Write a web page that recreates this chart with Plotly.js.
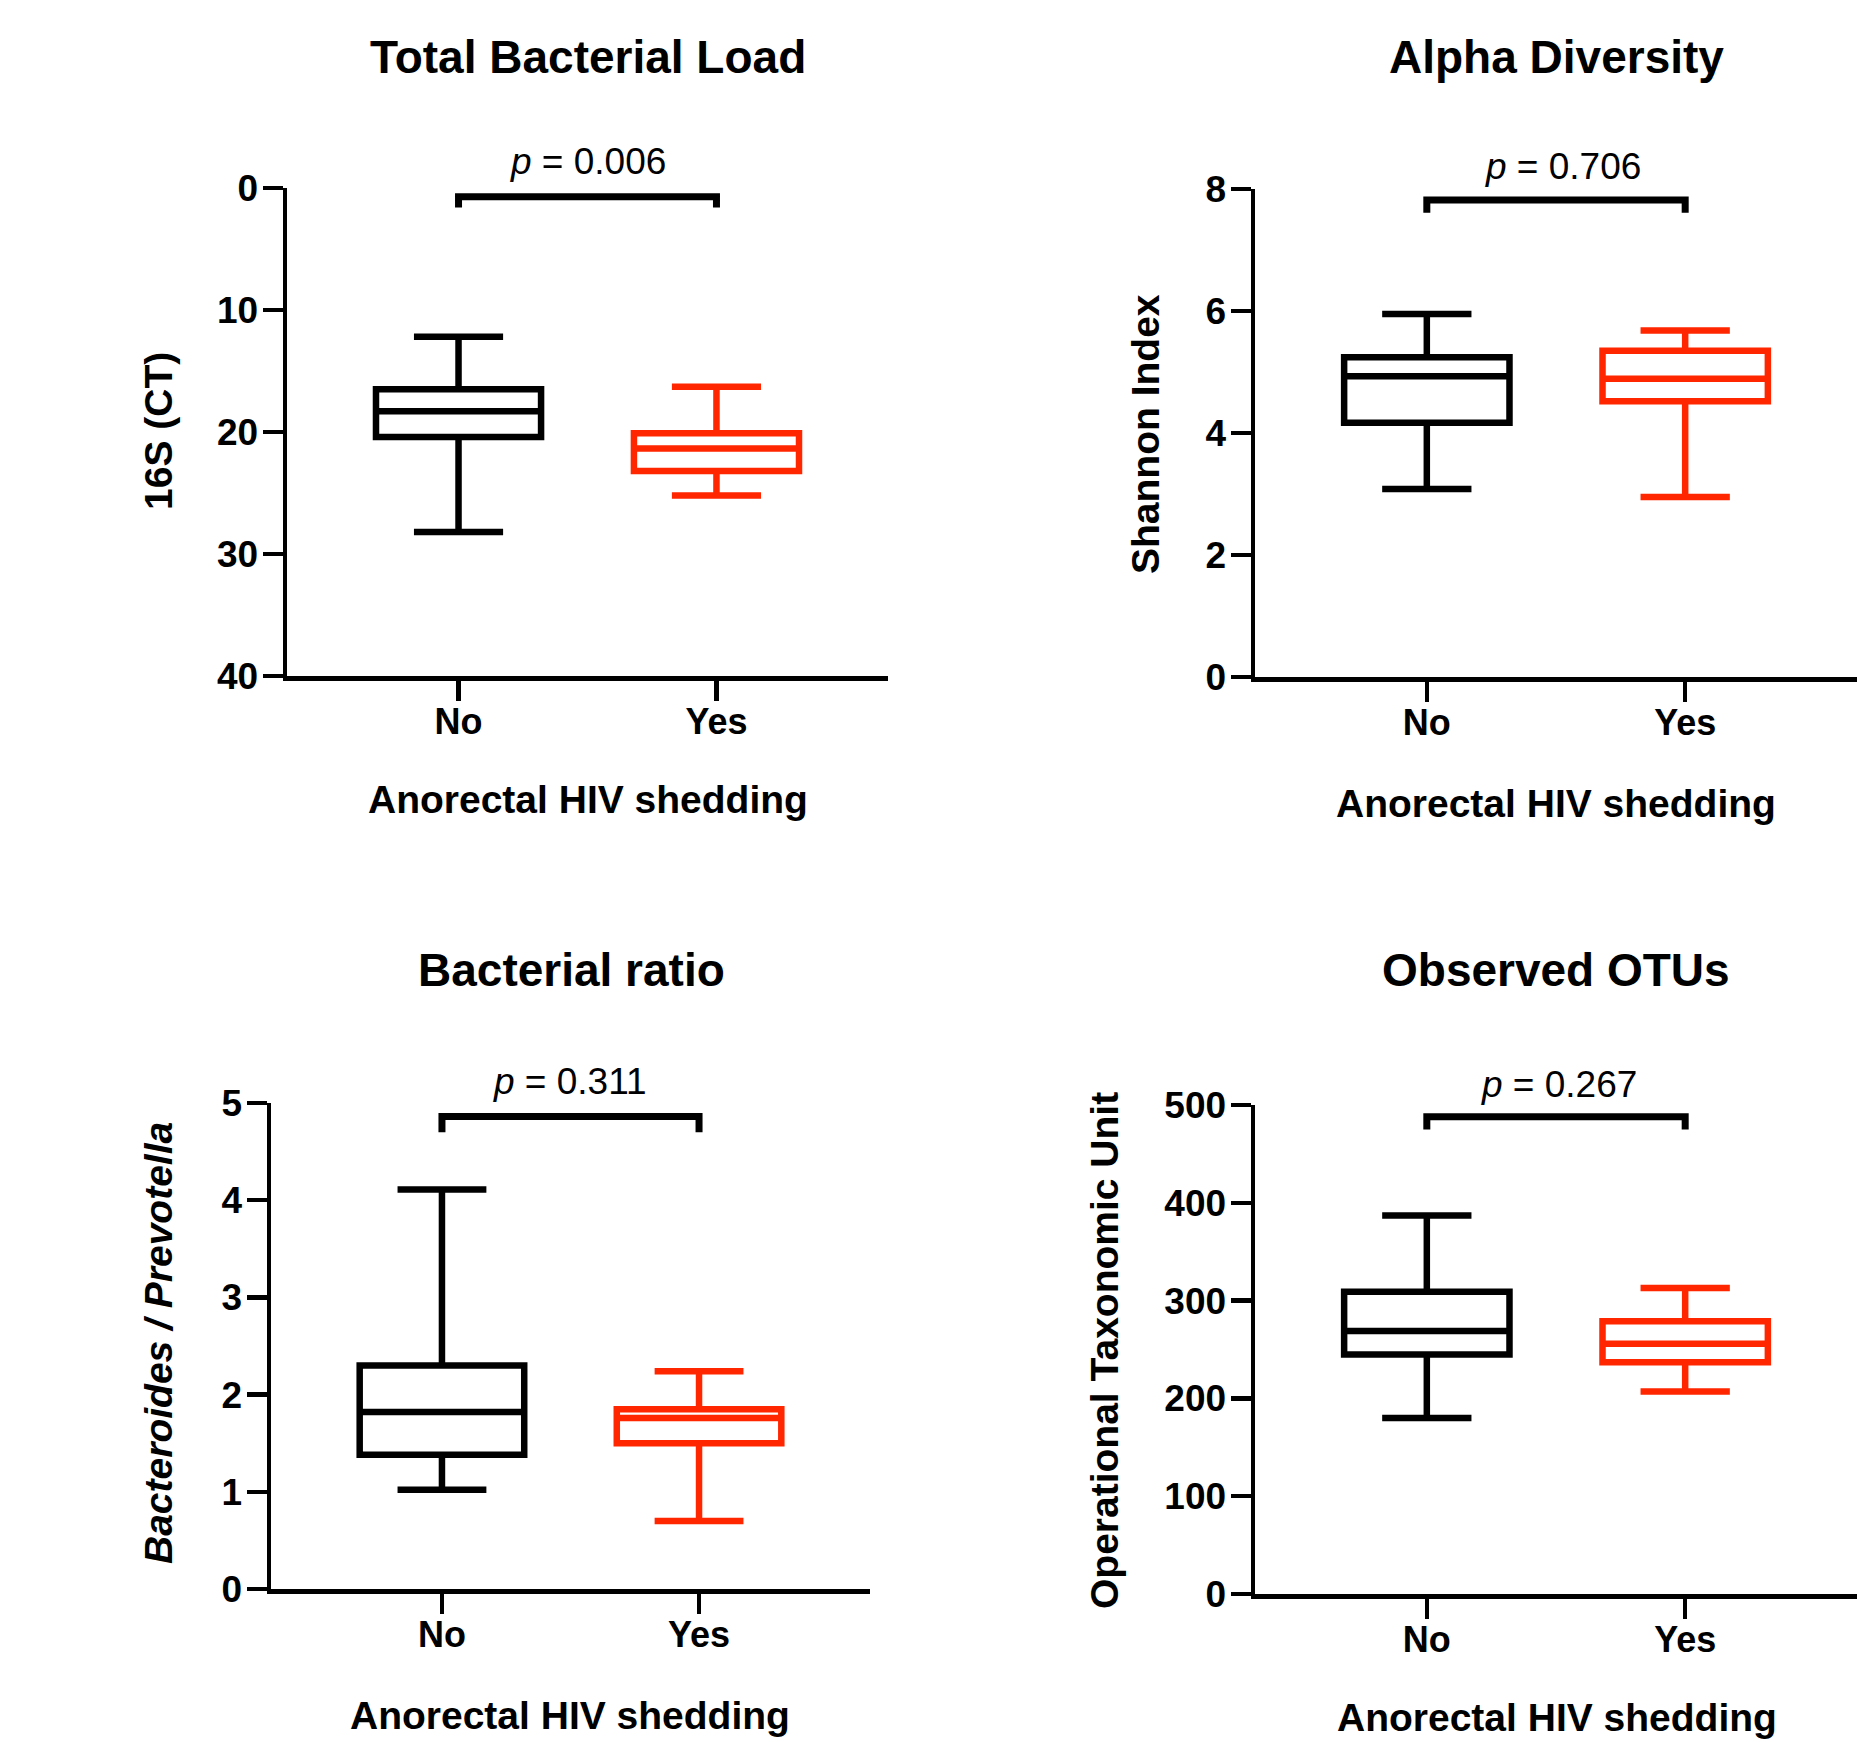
<!DOCTYPE html>
<html><head><meta charset="utf-8">
<script src="https://cdn.plot.ly/plotly-3.0.1.min.js"></script>
<style>html,body{margin:0;padding:0;background:#fff}#chart{width:1857px;height:1742px}</style>
</head><body><div id="chart"></div>
<script>
// ---- data ----
const categories = ['No', 'Yes'];
// order: lowerfence, q1, median, q3, upperfence
const loadNo = [12.2, 16.5, 18.3, 20.4, 28.2];
const loadYes = [16.3, 20.1, 21.35, 23.2, 25.2];
const shannonNo = [3.08, 4.17, 4.93, 5.24, 5.95];
const shannonYes = [2.95, 4.52, 4.89, 5.35, 5.68];
const ratioNo = [1.02, 1.38, 1.82, 2.30, 4.11];
const ratioYes = [0.70, 1.50, 1.76, 1.85, 2.24];
const otuNo = [180, 245, 269, 309, 387];
const otuYes = [207, 237, 256, 279, 313];
const pValues = ['0.006', '0.706', '0.311', '0.267'];
const bracketLoad = [1.6, 0.71, 0.71, 1.6];
const bracketShannon = [7.61, 7.82, 7.82, 7.61];
const bracketRatio = [4.70, 4.86, 4.86, 4.70];
const bracketOtu = [475, 488, 488, 475];
const panelTitles = ['Total Bacterial Load', 'Alpha Diversity', 'Bacterial ratio', 'Observed OTUs'];
const yTitles = ['16S (CT)', 'Shannon Index', '<i>Bacteroides / Prevotella</i>', 'Operational Taxonomic Unit'];
const xTitle = 'Anorectal HIV shedding';
const yTickVals = [[0, 10, 20, 30, 40], [0, 2, 4, 6, 8], [0, 1, 2, 3, 4, 5], [0, 100, 200, 300, 400, 500]];

// ---- styling ----
const BLACK = '#000000';
const RED = 'rgb(255,38,0)';
const FONT = 'Liberation Sans, Arial, Helvetica, sans-serif';

function boxTrace(stats, cat, color, xa, ya) {
  return {
    type: 'box', x: [cat], xaxis: xa, yaxis: ya,
    lowerfence: [stats[0]], q1: [stats[1]], median: [stats[2]], q3: [stats[3]], upperfence: [stats[4]],
    boxpoints: false, width: 0.64, whiskerwidth: 0.54,
    line: {color: color, width: 6.5}, fillcolor: 'rgba(0,0,0,0)', hoverinfo: 'skip'
  };
}
function bracketTrace(ys, xa, ya) {
  return {
    type: 'scatter', mode: 'lines', xaxis: xa, yaxis: ya,
    x: [categories[0], categories[0], categories[1], categories[1]], y: ys,
    line: {color: BLACK, width: 7}, cliponaxis: false, hoverinfo: 'skip'
  };
}

const groups = [[loadNo, loadYes], [shannonNo, shannonYes], [ratioNo, ratioYes], [otuNo, otuYes]];
const brackets = [bracketLoad, bracketShannon, bracketRatio, bracketOtu];
const axNames = [['x', 'y'], ['x2', 'y2'], ['x3', 'y3'], ['x4', 'y4']];
const traces = [];
groups.forEach((g, i) => {
  traces.push(boxTrace(g[0], categories[0], BLACK, axNames[i][0], axNames[i][1]));
  traces.push(boxTrace(g[1], categories[1], RED, axNames[i][0], axNames[i][1]));
  traces.push(bracketTrace(brackets[i], axNames[i][0], axNames[i][1]));
});

const W = 1857, H = 1742;
// plot areas in pixels: [left, right, top, bottom]
const areas = [[287, 888, 188, 676], [1255, 1857, 189, 677], [271, 870, 1103, 1589], [1255, 1857, 1105, 1594]];
const yRanges = [[40, 0], [0, 8], [0, 5], [0, 500]];

function xAxis(a, ya) {
  return {
    domain: [a[0] / W, Math.min(1, a[1] / W)], anchor: ya, type: 'category',
    range: [-0.665, 1.665], showgrid: false, zeroline: false,
    showline: true, linecolor: BLACK, linewidth: 4.5,
    ticks: 'outside', ticklen: 20, tickwidth: 4.5, tickcolor: BLACK, ticklabelstandoff: -10,
    tickfont: {family: FONT, size: 36, color: BLACK, weight: 'bold'}, fixedrange: true
  };
}
function yAxis(a, xa, r, tv) {
  return {
    domain: [1 - a[3] / H, 1 - a[2] / H], anchor: xa, range: r,
    tickvals: tv, ticktext: tv.map(String), showgrid: false, zeroline: false,
    showline: true, linecolor: BLACK, linewidth: 4.5,
    ticks: 'outside', ticklen: 20, tickwidth: 4.5, tickcolor: BLACK, ticklabelstandoff: -3,
    tickfont: {family: FONT, size: 37, color: BLACK, weight: 'bold'}, fixedrange: true
  };
}

const layout = {
  width: W, height: H, margin: {l: 0, r: 0, t: 0, b: 0},
  paper_bgcolor: '#ffffff', plot_bgcolor: 'rgba(0,0,0,0)', showlegend: false,
  boxmode: 'overlay', annotations: []
};
areas.forEach((a, i) => {
  const sx = i === 0 ? '' : String(i + 1);
  layout['xaxis' + sx] = xAxis(a, 'y' + sx);
  layout['yaxis' + sx] = yAxis(a, 'x' + sx, yRanges[i], yTickVals[i]);
});

function ann(text, px, py, size, bold, angle) {
  return {
    text: text, xref: 'paper', yref: 'paper', x: px / W, y: 1 - py / H,
    xanchor: 'center', yanchor: 'middle', showarrow: false, textangle: angle || 0,
    font: {family: FONT, size: size, color: BLACK, weight: bold ? 'bold' : 'normal'}
  };
}
const titlePos = [[588, 57], [1556, 57], [571, 970], [1556, 970]];
const pPos = [[588, 162], [1563, 166], [570, 1081], [1559, 1084]];
const xtPos = [[588, 800], [1556, 803], [570, 1715], [1557, 1717]];
const ytPos = [[158, 431], [1146, 434], [158, 1343], [1104, 1351]];
for (let i = 0; i < 4; i++) {
  layout.annotations.push(ann(panelTitles[i], titlePos[i][0], titlePos[i][1], 46, true));
  layout.annotations.push(ann('<i>p</i> = ' + pValues[i], pPos[i][0], pPos[i][1], 37, false));
  layout.annotations.push(ann(xTitle, xtPos[i][0], xtPos[i][1], 39, true));
  layout.annotations.push(ann(yTitles[i], ytPos[i][0], ytPos[i][1], 39, true, -90));
}

Plotly.newPlot('chart', traces, layout, {displayModeBar: false, staticPlot: true});
</script>
</body></html>
